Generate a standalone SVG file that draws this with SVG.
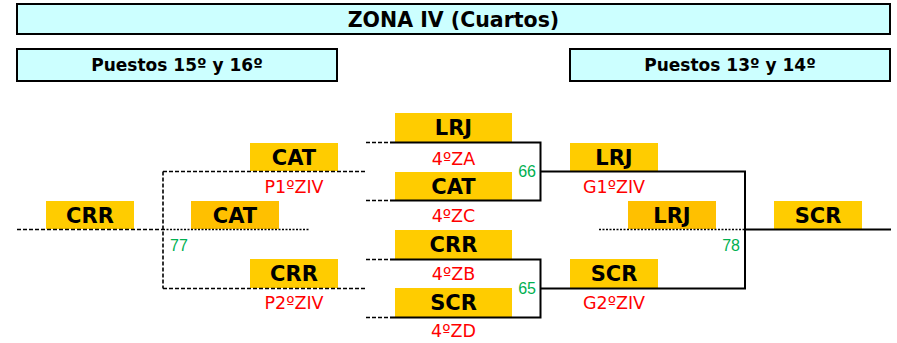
<svg xmlns="http://www.w3.org/2000/svg" width="897" height="343" viewBox="0 0 897 343">
<style>
.hdr{fill:#CCFFFF;stroke:#000;stroke-width:2}
.team{fill:#FFCC00}
.team2{fill:#FFC000}
.tt{font-family:"DejaVu Sans",Verdana,sans-serif;font-weight:bold;font-size:21px;fill:#000;text-anchor:middle}
.ht{font-family:"DejaVu Sans",Verdana,sans-serif;font-weight:bold;fill:#000;text-anchor:middle}
.rl{font-family:"DejaVu Sans",Verdana,sans-serif;font-size:17.5px;fill:#FF0000;text-anchor:middle}
.gn{font-family:"Liberation Sans",Arial,sans-serif;font-size:16px;fill:#00B050}
.dash{fill:none;stroke:#000;stroke-width:1.6;stroke-dasharray:4 2}
.dot{fill:none;stroke:#000;stroke-width:1.6;stroke-dasharray:2 1.5}
.solid{fill:none;stroke:#000;stroke-width:2}
</style>
<rect width="897" height="343" fill="#fff"/>
<g id="title">
<rect class="hdr" x="17" y="4" width="873" height="30"/>
<text class="ht" x="453.5" y="26.5" font-size="20.5">ZONA IV (Cuartos)</text>
</g>
<g id="hdr-15-16">
<rect class="hdr" x="17" y="49" width="320" height="32"/>
<text class="ht" x="177" y="71" font-size="17">Puestos 15º y 16º</text>
</g>
<g id="hdr-13-14">
<rect class="hdr" x="570" y="49" width="320" height="32"/>
<text class="ht" x="730" y="71" font-size="17">Puestos 13º y 14º</text>
</g>
<g id="n-crr-left"><rect class="team" x="46" y="201" width="88" height="28"/><text class="tt" x="90" y="223">CRR</text></g>
<g id="n-cat-p1"><rect class="team" x="250" y="143" width="88" height="28"/><text class="tt" x="294" y="165">CAT</text><text class="rl" x="294" y="192.5">P1ºZIV</text></g>
<g id="n-cat-mid"><rect class="team2" x="191" y="201" width="88" height="28"/><text class="tt" x="235" y="223">CAT</text></g>
<g id="n-crr-p2"><rect class="team" x="250" y="259" width="88" height="29"/><text class="tt" x="294" y="281">CRR</text><text class="rl" x="294" y="309">P2ºZIV</text></g>
<g id="n-lrj-za"><rect class="team" x="395" y="113" width="117" height="29"/><text class="tt" x="453.5" y="135">LRJ</text><text class="rl" x="453.5" y="164.5">4ºZA</text></g>
<g id="n-cat-zc"><rect class="team" x="395" y="172" width="117" height="28"/><text class="tt" x="453.5" y="193.5">CAT</text><text class="rl" x="453.5" y="222">4ºZC</text></g>
<g id="n-crr-zb"><rect class="team" x="395" y="230" width="117" height="29"/><text class="tt" x="453.5" y="252">CRR</text><text class="rl" x="453.5" y="280">4ºZB</text></g>
<g id="n-scr-zd"><rect class="team" x="395" y="288" width="117" height="29"/><text class="tt" x="453.5" y="310">SCR</text><text class="rl" x="453.5" y="337">4ºZD</text></g>
<g id="n-lrj-g1"><rect class="team" x="570" y="143" width="88" height="28"/><text class="tt" x="614" y="165">LRJ</text><text class="rl" x="614" y="192.5">G1ºZIV</text></g>
<g id="n-lrj-mid"><rect class="team2" x="628" y="201" width="88" height="28"/><text class="tt" x="672" y="223">LRJ</text></g>
<g id="n-scr-g2"><rect class="team" x="570" y="259" width="88" height="29"/><text class="tt" x="614" y="281">SCR</text><text class="rl" x="614" y="309">G2ºZIV</text></g>
<g id="n-scr-final"><rect class="team" x="774" y="201" width="88" height="28"/><text class="tt" x="818" y="223">SCR</text></g>
<g id="connectors">
<path class="dash" d="M17 229.5H163M163 171.5V288.5M163 171.5H367M163 288.5H367"/>
<path class="dash" d="M366 142.5H390M366 200.5H390M366 259.5H390M366 317.5H390"/>
<path class="dot" d="M163 229.5H309M599 229.5H745"/>
<path class="solid" d="M390 142.5H540.5V200.5H390"/>
<path class="solid" d="M390 259.5H540.5V317.5H390"/>
<path class="solid" d="M540.5 171.5H745V288.5H540.5"/>
<path class="solid" d="M745 229.5H891"/>
<text class="gn" x="536" y="177" text-anchor="end">66</text>
<text class="gn" x="536" y="294" text-anchor="end">65</text>
<text class="gn" x="170" y="251">77</text>
<text class="gn" x="740" y="251" text-anchor="end">78</text>
</g>
</svg>
